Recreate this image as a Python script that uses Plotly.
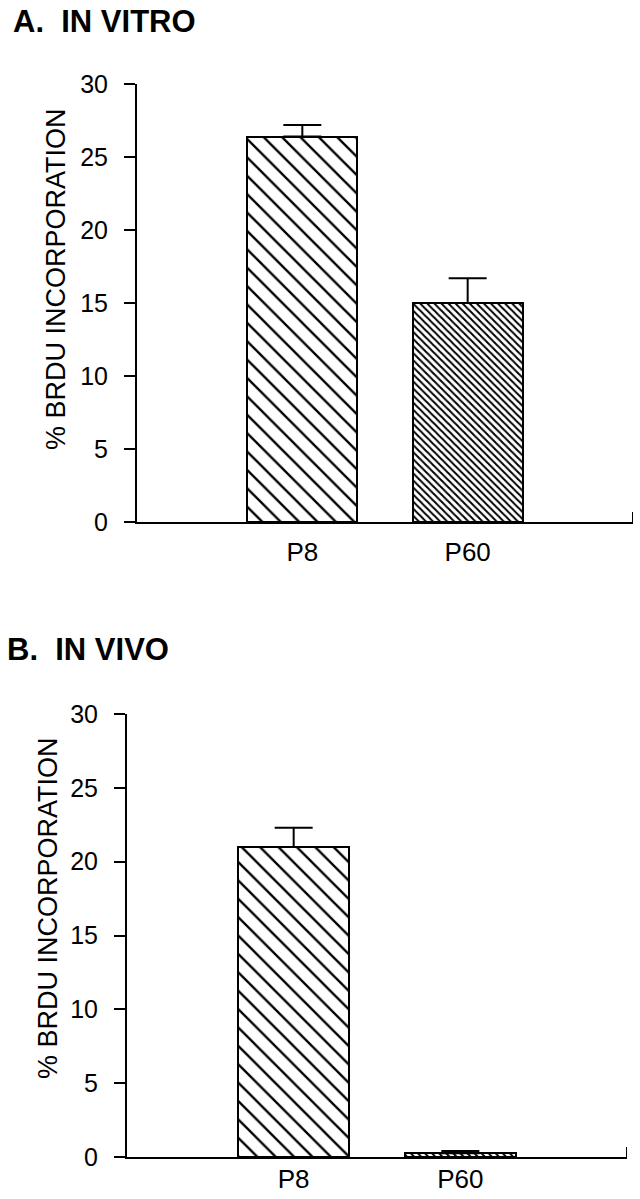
import plotly.graph_objects as go

# values (% BrdU incorporation, mean + SEM)
groups = ["P8", "P60"]
invitro_mean = [26.4, 15.0]
invitro_err = [0.8, 1.7]
invivo_mean = [21.0, 0.25]
invivo_err = [1.3, 0.15]
y_ticks = [0, 5, 10, 15, 20, 25, 30]

FONT = "Liberation Sans, Arial, Helvetica, sans-serif"
W, H = 640, 1199


def px_x(p):
    return p / W


def px_y(p):
    return 1 - p / H


fig = go.Figure()


def add_panel(means, errs, xa, ya):
    # one bar per trace so each can carry its own hatch density
    hatch = [dict(shape="\\", size=13, solidity=0.18, fgcolor="black", bgcolor="white"),
             dict(shape="\\", size=5, solidity=0.4, fgcolor="black", bgcolor="white")]
    for i, g in enumerate(groups):
        fig.add_trace(go.Bar(
            x=[g], y=[means[i]],
            width=0.667,
            marker=dict(color="white", pattern=hatch[i],
                        line=dict(color="black", width=2)),
            error_y=dict(type="data", symmetric=False, array=[errs[i]], arrayminus=[0],
                         color="black", thickness=2, width=19),
            xaxis=xa, yaxis=ya, showlegend=False, hoverinfo="skip",
        ))


add_panel(invitro_mean, invitro_err, "x", "y")
add_panel(invivo_mean, invivo_err, "x2", "y2")

xcommon = dict(type="category", categoryorder="array", categoryarray=groups,
               range=[-1, 2], showline=True, linecolor="black", linewidth=2,
               ticks="", showgrid=False, zeroline=False, automargin=False,
               tickfont=dict(family=FONT, size=26, color="black"))
ycommon = dict(range=[0, 30], tickvals=y_ticks, showline=True, linecolor="black", linewidth=2,
               ticks="outside", ticklen=11, tickwidth=2, tickcolor="black",
               showgrid=False, zeroline=False, automargin=False,
               tickfont=dict(family=FONT, size=25, color="black"), ticklabelstandoff=11)

fig.update_layout(
    template="none",
    width=W, height=H,
    margin=dict(l=0, r=0, t=0, b=0, autoexpand=False),
    paper_bgcolor="white", plot_bgcolor="white",
    bargap=0,
    xaxis=dict(domain=[px_x(137), px_x(633)], anchor="y", ticklabelstandoff=6, **xcommon),
    yaxis=dict(domain=[px_y(522), px_y(84)], anchor="x", **ycommon),
    xaxis2=dict(domain=[px_x(127), px_x(627)], anchor="y2", ticklabelstandoff=-2, **xcommon),
    yaxis2=dict(domain=[px_y(1157), px_y(714)], anchor="x2", **ycommon),
)

# small upturned tick at the right end of each baseline
for xr, yr in [("x", "y"), ("x2", "y2")]:
    fig.add_shape(type="line", xref=xr, yref=yr, x0=2, x1=2,
                  ysizemode="pixel", yanchor=0, y0=0, y1=10,
                  line=dict(color="black", width=2))

# panel titles
fig.add_annotation(text="<b>A.\u00a0 IN VITRO</b>", xref="paper", yref="paper",
                   x=px_x(11), y=px_y(21), xanchor="left", yanchor="middle",
                   showarrow=False, font=dict(family=FONT, size=31, color="black"))
fig.add_annotation(text="<b>B.\u00a0 IN VIVO</b>", xref="paper", yref="paper",
                   x=px_x(5), y=px_y(650), xanchor="left", yanchor="middle",
                   showarrow=False, font=dict(family=FONT, size=31, color="black"))

# y-axis titles
for cx, cy in [(56, 279), (48, 908)]:
    fig.add_annotation(text="% BRDU INCORPORATION", xref="paper", yref="paper",
                       x=px_x(cx), y=px_y(cy), xanchor="center", yanchor="middle",
                       textangle=-90, showarrow=False,
                       font=dict(family=FONT, size=27, color="black"))

# drop the default page margin so the figure sits at the page origin
fig.write_html("out.html", post_script="document.body.style.margin='0';",
               config={"displayModeBar": False})
